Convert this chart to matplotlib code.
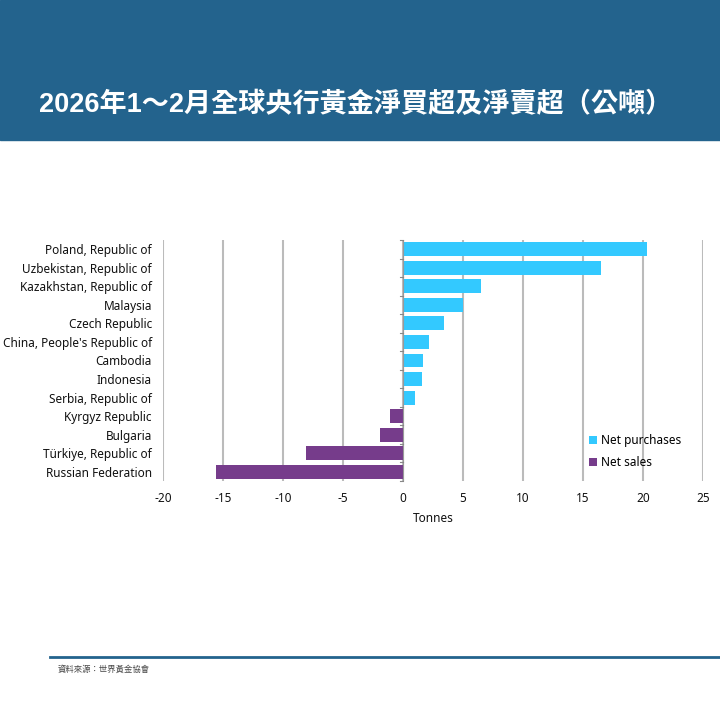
import matplotlib
matplotlib.use("Agg")
import numpy as np
import matplotlib.pyplot as plt
from matplotlib.patches import Rectangle

plt.rcParams['font.family'] = ['Noto Sans', 'Noto Sans CJK TC', 'DejaVu Sans']

# data (tonnes)
COUNTRIES = [
    "Poland, Republic of",
    "Uzbekistan, Republic of",
    "Kazakhstan, Republic of",
    "Malaysia",
    "Czech Republic",
    "China, People's Republic of",
    "Cambodia",
    "Indonesia",
    "Serbia, Republic of",
    "Kyrgyz Republic",
    "Bulgaria",
    "Türkiye, Republic of",
    "Russian Federation",
]
TONNES = [20.3, 16.5, 6.5, 5.0, 3.4, 2.2, 1.7, 1.55, 1.0, -1.1, -1.9, -8.1, -15.6]
X_TICKS = [-20, -15, -10, -5, 0, 5, 10, 15, 20, 25]

TITLE = "2026年1～2月全球央行黃金淨買超及淨賣超（公噸）"
SOURCE = "資料來源：世界黃金協會"

BLUE = "#33C9FF"
PURPLE = "#763C8B"
HEADER = "#23638D"

fig = plt.figure(figsize=(7.2, 7.2), dpi=100)

# header band
fig.patches.append(Rectangle((0, 1 - 140 / 720), 1, 140 / 720, transform=fig.transFigure,
                             color=HEADER, zorder=0))
fig.text(0.494, 1 - 105 / 720, TITLE, color="white", fontsize=19.5, fontweight="bold",
         ha="center", va="center", family=['Liberation Sans', 'Noto Sans CJK TC', 'DejaVu Sans'])

# footer line + source
fig.add_artist(plt.Line2D([50 / 720, 1], [1 - 657 / 720] * 2, transform=fig.transFigure,
                          color=HEADER, lw=2))
fig.text(58 / 720, 1 - 669 / 720, SOURCE, color="#444444", fontsize=6, ha="left", va="center",
         family=['Noto Sans CJK TC', 'DejaVu Sans'])

ax = fig.add_axes([163 / 720, 1 - 481 / 720, 540 / 720, 241 / 720])

y = np.arange(len(COUNTRIES))
vals = np.array(TONNES)
ax.barh(y[vals > 0], vals[vals > 0], height=0.75, color=BLUE, label="Net purchases", zorder=3)
ax.barh(y[vals < 0], vals[vals < 0], height=0.75, color=PURPLE, label="Net sales", zorder=3)

ax.set_xlim(-20, 25)
ax.set_ylim(len(COUNTRIES) - 0.5, -0.5)
ax.set_xticks(X_TICKS)
ax.set_xticklabels([str(t) for t in X_TICKS])
ax.set_yticks(y)
ax.set_yticklabels(COUNTRIES)
ax.tick_params(axis="y", length=0, pad=8, labelsize=8.5, labelcolor="#111111")
ax.tick_params(axis="x", length=0, pad=8, labelsize=8.5, labelcolor="#111111")

ax.grid(axis="x", color="#BBBBBB", lw=1.5, zorder=0)
for s in ax.spines.values():
    s.set_visible(False)

# zero axis with small category ticks
ax.axvline(0, color="#999999", lw=0.8, zorder=4)
for b in np.arange(len(COUNTRIES) + 1) - 0.5:
    ax.plot([-0.25, 0], [b, b], color="#888888", lw=0.8, zorder=4, clip_on=False)

ax.set_xlabel("Tonnes", fontsize=8.5, color="#111111")
ax.xaxis.set_label_coords(0.5, -0.13)

ax.legend(loc="lower left", bbox_to_anchor=(0.77, 0.005), frameon=False, fontsize=8.5,
          handlelength=0.6, handleheight=0.6, handletextpad=0.4, labelspacing=0.75)

fig.savefig("out.png", dpi=100)
